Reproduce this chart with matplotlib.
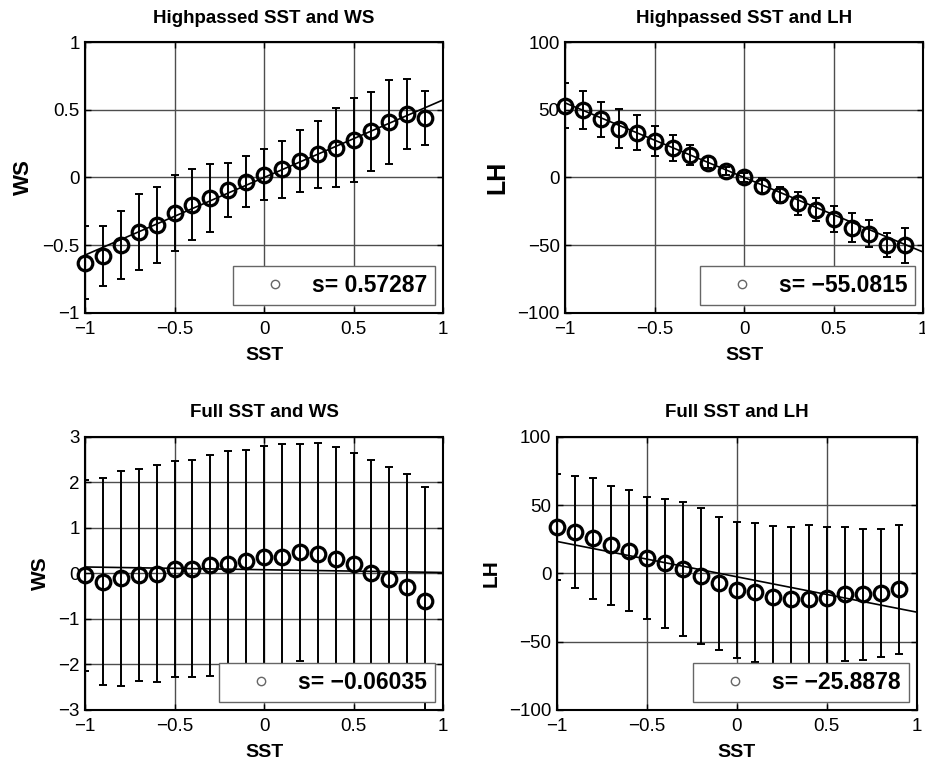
import matplotlib
matplotlib.use("Agg")
import matplotlib.pyplot as plt
from matplotlib.lines import Line2D
import numpy as np

plt.rcParams["font.family"] = ["Liberation Sans", "DejaVu Sans"]

# SST bin centres (shared by all panels)
sst = [-1.0, -0.9, -0.8, -0.7, -0.6, -0.5, -0.4, -0.3, -0.2, -0.1,
       0.0, 0.1, 0.2, 0.3, 0.4, 0.5, 0.6, 0.7, 0.8, 0.9]

# Highpassed SST and WS
hp_ws = [-0.63, -0.58, -0.50, -0.40, -0.35, -0.26, -0.20, -0.15, -0.09, -0.03,
         0.02, 0.06, 0.12, 0.17, 0.22, 0.28, 0.34, 0.41, 0.47, 0.44]
hp_ws_err = [0.27, 0.22, 0.25, 0.28, 0.28, 0.28, 0.26, 0.25, 0.20, 0.19,
             0.19, 0.21, 0.23, 0.25, 0.29, 0.31, 0.29, 0.31, 0.26, 0.20]
hp_ws_fit = (0.57287, 0.0)

# Highpassed SST and LH
hp_lh = [53, 50, 43, 36, 33, 27, 22, 16.5, 11, 5,
         0, -6, -13, -19, -24, -30.5, -37, -41.5, -50, -50]
hp_lh_err = [16.5, 14, 13, 14.5, 13, 11, 9.5, 7.5, 4, 3,
             3.5, 5.5, 6, 8.5, 8.5, 9.5, 11, 10, 9, 13]
hp_lh_fit = (-55.0815, 0.0)

# Full SST and WS
full_ws = [-0.04, -0.18, -0.11, -0.04, -0.01, 0.10, 0.10, 0.18, 0.20, 0.27,
           0.35, 0.37, 0.46, 0.42, 0.31, 0.20, 0.01, -0.12, -0.29, -0.60]
full_ws_err = [2.10, 2.28, 2.36, 2.33, 2.38, 2.37, 2.38, 2.43, 2.48, 2.45,
               2.45, 2.47, 2.38, 2.45, 2.46, 2.45, 2.48, 2.46, 2.48, 2.50]
full_ws_fit = (-0.06035, 0.08)

# Full SST and LH
full_lh = [34, 30.5, 25.6, 20.7, 16.6, 11, 7.3, 3.2, -2, -7.3,
           -12.2, -14, -17.6, -18.8, -18.8, -17.8, -15, -15.4, -14.6, -11.7]
full_lh_err = [39, 41, 44.5, 43.5, 44.5, 44.6, 47, 49, 49.6, 48.5,
               49.5, 51, 52, 53, 54, 52, 49, 48, 47, 47]
full_lh_fit = (-25.8878, -2.5)

panels = [
    ("Highpassed SST and WS", "WS", hp_ws, hp_ws_err, hp_ws_fit, (-1, 1), [-1, -0.5, 0, 0.5, 1], 16),
    ("Highpassed SST and LH", "LH", hp_lh, hp_lh_err, hp_lh_fit, (-100, 100), [-100, -50, 0, 50, 100], 18),
    ("Full SST and WS", "WS", full_ws, full_ws_err, full_ws_fit, (-3, 3), [-3, -2, -1, 0, 1, 2, 3], 15),
    ("Full SST and LH", "LH", full_lh, full_lh_err, full_lh_fit, (-100, 100), [-100, -50, 0, 50, 100], 15),
]

positions = [
    [0.092, 0.591, 0.387, 0.354],
    [0.611, 0.591, 0.387, 0.354],
    [0.092, 0.072, 0.387, 0.357],
    [0.602, 0.072, 0.389, 0.357],
]


def fmt(v):
    s = "%g" % v
    return s.replace("-", "\u2212")


fig = plt.figure(figsize=(9.25, 7.65), dpi=100)

for (title, ylab, y, err, fit, ylim, yticks, ylab_size), pos in zip(panels, positions):
    ax = fig.add_axes(pos)
    ax.grid(True, color="0.3", linewidth=1.0)
    ax.set_axisbelow(True)

    xs = np.array([-1.0, 1.0])
    ax.plot(xs, fit[0] * xs + fit[1], color="black", linewidth=1.2, zorder=2)

    ax.errorbar(sst, y, yerr=err, fmt="none", ecolor="black",
                elinewidth=1.4, capsize=3, capthick=1.4, zorder=3)
    ax.plot(sst, y, linestyle="none", marker="o", markersize=10.5,
            markerfacecolor="none", markeredgecolor="black",
            markeredgewidth=2.3, clip_on=False, zorder=4)

    ax.set_xlim(-1, 1)
    ax.set_ylim(*ylim)
    ax.set_xticks([-1, -0.5, 0, 0.5, 1])
    ax.set_xticklabels([fmt(v) for v in [-1, -0.5, 0, 0.5, 1]])
    ax.set_yticks(yticks)
    ax.set_yticklabels([fmt(v) for v in yticks])
    ax.tick_params(direction="in", top=True, right=True, labelsize=13.5,
                   length=4, width=1.0)
    ax.tick_params(axis="x", pad=6)
    ax.tick_params(axis="y", pad=4)
    for sp in ax.spines.values():
        sp.set_linewidth(1.5)

    ax.set_title(title, fontsize=13.5, fontweight="bold", pad=14)
    ax.set_xlabel("SST", fontsize=14, fontweight="bold", labelpad=6)
    ax.set_ylabel(ylab, fontsize=ylab_size, fontweight="bold", labelpad=6)

    handle = Line2D([], [], linestyle="none", marker="o", markersize=6,
                    markerfacecolor="none", markeredgecolor="0.4",
                    markeredgewidth=1.0)
    leg = ax.legend([handle], ["s= " + ("%g" % fit[0]).replace("-", "\u2212")],
                    loc="lower right", fancybox=False, framealpha=1,
                    edgecolor="0.4", borderpad=0.35, handlelength=3.0,
                    handletextpad=0.1, borderaxespad=0.35,
                    prop={"size": 16.5, "weight": "bold"})
    leg.get_frame().set_linewidth(1.0)
    leg.set_zorder(5)

fig.savefig("out.png", dpi=100)
